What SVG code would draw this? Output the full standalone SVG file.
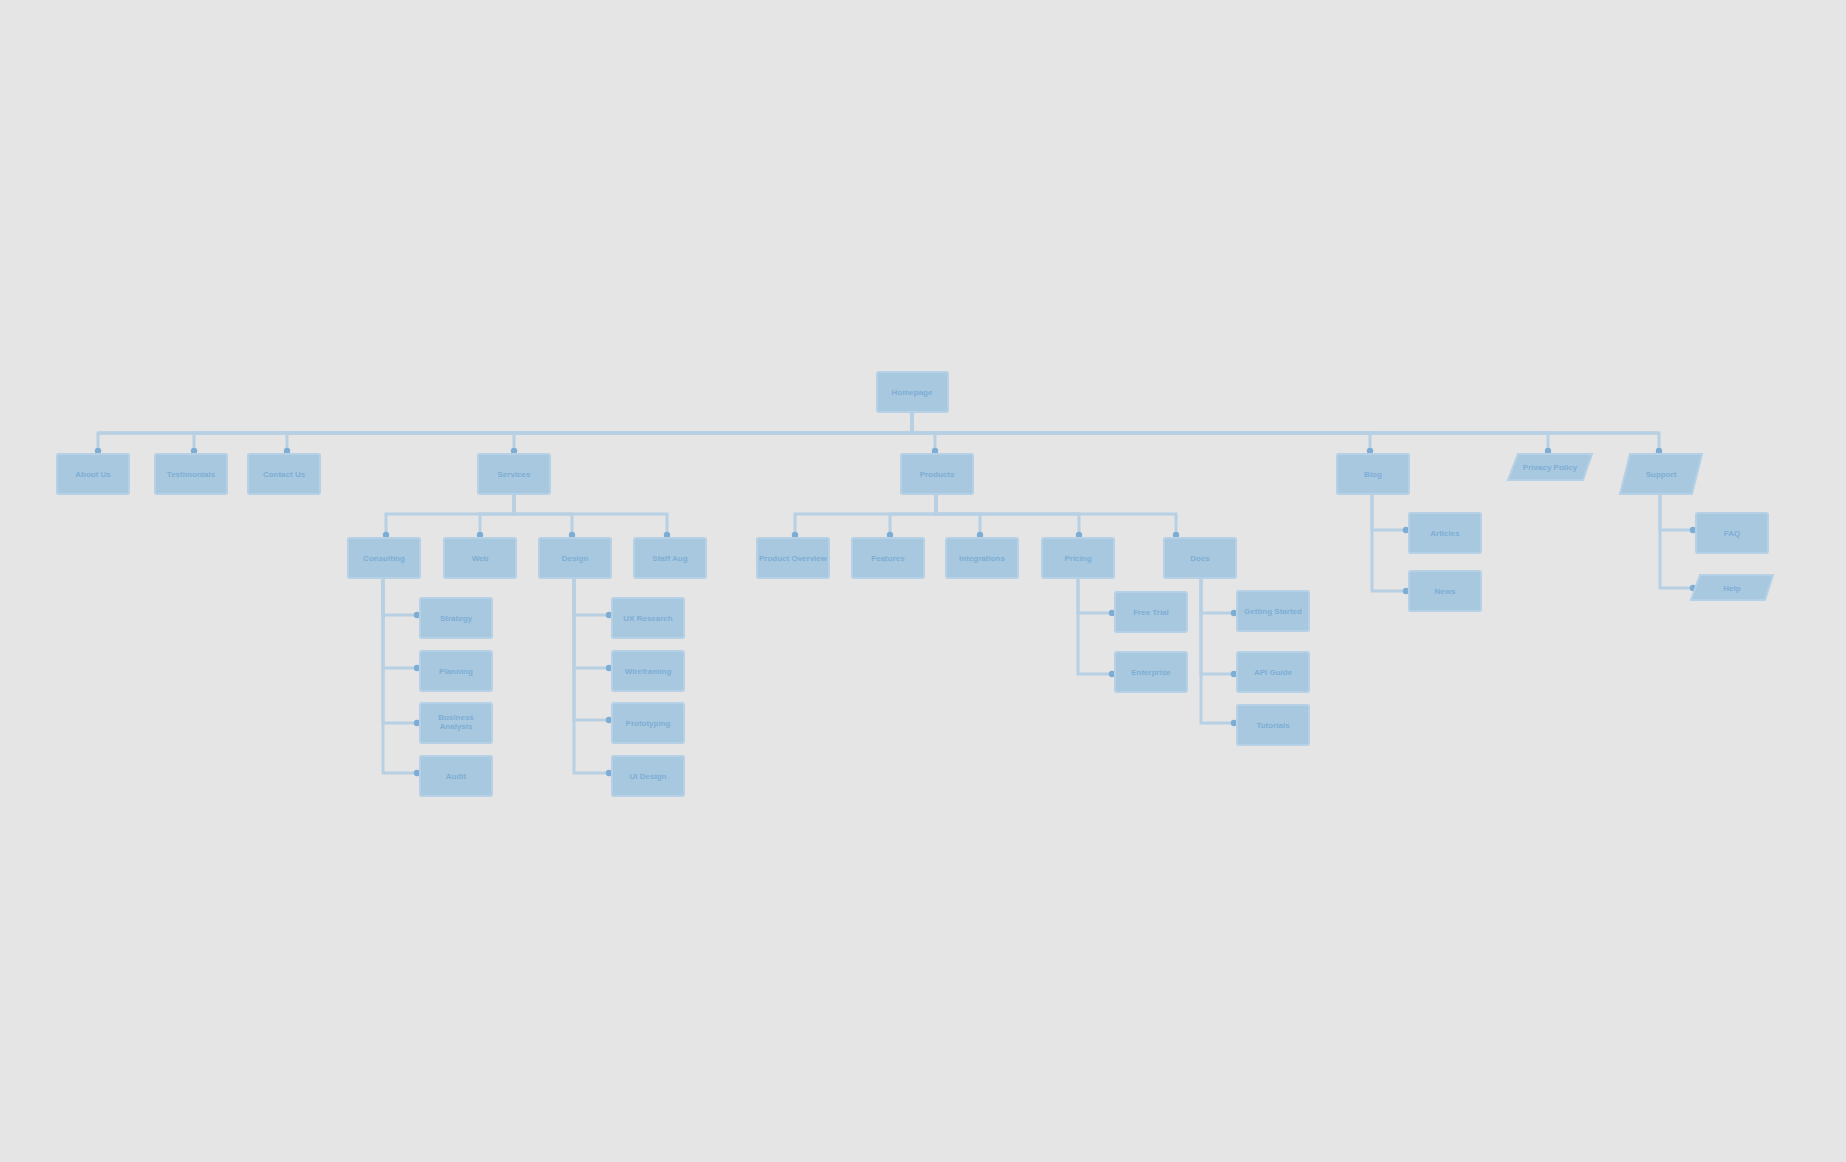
<svg xmlns="http://www.w3.org/2000/svg" width="1846" height="1162" viewBox="0 0 1846 1162">
<style>
.bg{fill:#e5e5e5}
.box{fill:#a8c8e0;stroke:#b6d0e5;stroke-width:2}
.lbl{font-family:"Liberation Sans",Arial,sans-serif;font-size:8px;font-weight:bold;fill:#7eaed4;text-anchor:middle}
.c{fill:none;stroke:#b8d0e4;stroke-width:3;marker-end:url(#dot)}
.cm{fill:none;stroke:#a9c7df;stroke-width:3}
</style>
<defs>
<marker id="dot" markerUnits="userSpaceOnUse" markerWidth="8" markerHeight="8" refX="4" refY="4" viewBox="0 0 8 8">
<circle cx="4" cy="4" r="3.2" fill="#7caed5"/>
</marker>
</defs>
<rect class="bg" x="0" y="0" width="1846" height="1162"/>
<g id="connectors">
<path class="cm" d="M912,412 V433 H98"/>
<path class="cm" d="M912,433 H1659"/>
<path class="c" d="M912,412 V433 H98 V451"/>
<path class="c" d="M912,412 V433 H194 V451"/>
<path class="c" d="M912,412 V433 H287 V451"/>
<path class="c" d="M912,412 V433 H514 V451"/>
<path class="c" d="M912,412 V433 H935 V451"/>
<path class="c" d="M912,412 V433 H1370 V451"/>
<path class="c" d="M912,412 V433 H1548 V451"/>
<path class="c" d="M912,412 V433 H1659 V451"/>
<path class="c" d="M514,494 V514 H386 V535"/>
<path class="c" d="M514,494 V514 H480 V535"/>
<path class="c" d="M514,494 V514 H572 V535"/>
<path class="c" d="M514,494 V514 H667 V535"/>
<path class="c" d="M936,494 V514 H795 V535"/>
<path class="c" d="M936,494 V514 H890 V535"/>
<path class="c" d="M936,494 V514 H980 V535"/>
<path class="c" d="M936,494 V514 H1079 V535"/>
<path class="c" d="M936,494 V514 H1176 V535"/>
<path class="c" d="M383,578 V615 H417"/>
<path class="c" d="M383,578 V668 H417"/>
<path class="c" d="M383,578 V723 H417"/>
<path class="c" d="M383,578 V773 H417"/>
<path class="c" d="M574,578 V615 H609"/>
<path class="c" d="M574,578 V668 H609"/>
<path class="c" d="M574,578 V720 H609"/>
<path class="c" d="M574,578 V773 H609"/>
<path class="c" d="M1078,578 V613 H1112"/>
<path class="c" d="M1078,578 V674 H1112"/>
<path class="c" d="M1201,578 V613 H1234"/>
<path class="c" d="M1201,578 V674 H1234"/>
<path class="c" d="M1201,578 V723 H1234"/>
<path class="c" d="M1372,494 V530 H1406"/>
<path class="c" d="M1372,494 V591 H1406"/>
<path class="c" d="M1660,494 V530 H1693"/>
<path class="c" d="M1660,494 V588 H1693"/>
</g>
<g id="root"><rect class="box" x="877" y="372" width="71" height="40" rx="2"/><text class="lbl" x="912" y="395">Homepage</text></g>
<g id="n1"><rect class="box" x="57" y="454" width="72" height="40" rx="2"/><text class="lbl" x="93" y="477">About Us</text></g>
<g id="n2"><rect class="box" x="155" y="454" width="72" height="40" rx="2"/><text class="lbl" x="191" y="477">Testimonials</text></g>
<g id="n3"><rect class="box" x="248" y="454" width="72" height="40" rx="2"/><text class="lbl" x="284" y="477">Contact Us</text></g>
<g id="n4"><rect class="box" x="478" y="454" width="72" height="40" rx="2"/><text class="lbl" x="514" y="477">Services</text></g>
<g id="n5"><rect class="box" x="901" y="454" width="72" height="40" rx="2"/><text class="lbl" x="937" y="477">Products</text></g>
<g id="n6"><rect class="box" x="1337" y="454" width="72" height="40" rx="2"/><text class="lbl" x="1373" y="477">Blog</text></g>
<g id="p1"><polygon class="box" points="1518,454 1592,454 1583,480 1508,480"/><text class="lbl" x="1550" y="470">Privacy Policy</text></g>
<g id="p2"><polygon class="box" points="1630,454 1702,454 1692,494 1620,494"/><text class="lbl" x="1661" y="477">Support</text></g>
<g id="a"><rect class="box" x="348" y="538" width="72" height="40" rx="2"/><text class="lbl" x="384" y="561">Consulting</text></g>
<g id="b"><rect class="box" x="444" y="538" width="72" height="40" rx="2"/><text class="lbl" x="480" y="561">Web</text></g>
<g id="c"><rect class="box" x="539" y="538" width="72" height="40" rx="2"/><text class="lbl" x="575" y="561">Design</text></g>
<g id="d"><rect class="box" x="634" y="538" width="72" height="40" rx="2"/><text class="lbl" x="670" y="561">Staff Aug</text></g>
<g id="a1"><rect class="box" x="420" y="598" width="72" height="40" rx="2"/><text class="lbl" x="456" y="621">Strategy</text></g>
<g id="a2"><rect class="box" x="420" y="651" width="72" height="40" rx="2"/><text class="lbl" x="456" y="674">Planning</text></g>
<g id="a3"><rect class="box" x="420" y="703" width="72" height="40" rx="2"/><text class="lbl" x="456" y="720">Business</text><text class="lbl" x="456" y="729">Analysis</text></g>
<g id="a4"><rect class="box" x="420" y="756" width="72" height="40" rx="2"/><text class="lbl" x="456" y="779">Audit</text></g>
<g id="c1"><rect class="box" x="612" y="598" width="72" height="40" rx="2"/><text class="lbl" x="648" y="621">UX Research</text></g>
<g id="c2"><rect class="box" x="612" y="651" width="72" height="40" rx="2"/><text class="lbl" x="648" y="674">Wireframing</text></g>
<g id="c3"><rect class="box" x="612" y="703" width="72" height="40" rx="2"/><text class="lbl" x="648" y="726">Prototyping</text></g>
<g id="c4"><rect class="box" x="612" y="756" width="72" height="40" rx="2"/><text class="lbl" x="648" y="779">UI Design</text></g>
<g id="e1"><rect class="box" x="757" y="538" width="72" height="40" rx="2"/><text class="lbl" x="793" y="561">Product Overview</text></g>
<g id="e2"><rect class="box" x="852" y="538" width="72" height="40" rx="2"/><text class="lbl" x="888" y="561">Features</text></g>
<g id="e3"><rect class="box" x="946" y="538" width="72" height="40" rx="2"/><text class="lbl" x="982" y="561">Integrations</text></g>
<g id="e4"><rect class="box" x="1042" y="538" width="72" height="40" rx="2"/><text class="lbl" x="1078" y="561">Pricing</text></g>
<g id="e5"><rect class="box" x="1164" y="538" width="72" height="40" rx="2"/><text class="lbl" x="1200" y="561">Docs</text></g>
<g id="e41"><rect class="box" x="1115" y="592" width="72" height="40" rx="2"/><text class="lbl" x="1151" y="615">Free Trial</text></g>
<g id="e42"><rect class="box" x="1115" y="652" width="72" height="40" rx="2"/><text class="lbl" x="1151" y="675">Enterprise</text></g>
<g id="e51"><rect class="box" x="1237" y="591" width="72" height="40" rx="2"/><text class="lbl" x="1273" y="614">Getting Started</text></g>
<g id="e52"><rect class="box" x="1237" y="652" width="72" height="40" rx="2"/><text class="lbl" x="1273" y="675">API Guide</text></g>
<g id="e53"><rect class="box" x="1237" y="705" width="72" height="40" rx="2"/><text class="lbl" x="1273" y="728">Tutorials</text></g>
<g id="n61"><rect class="box" x="1409" y="513" width="72" height="40" rx="2"/><text class="lbl" x="1445" y="536">Articles</text></g>
<g id="n62"><rect class="box" x="1409" y="571" width="72" height="40" rx="2"/><text class="lbl" x="1445" y="594">News</text></g>
<g id="p21"><rect class="box" x="1696" y="513" width="72" height="40" rx="2"/><text class="lbl" x="1732" y="536">FAQ</text></g>
<g id="p22"><polygon class="box" points="1700,575 1773,575 1765,600 1691,600"/><text class="lbl" x="1732" y="591">Help</text></g>
</svg>
